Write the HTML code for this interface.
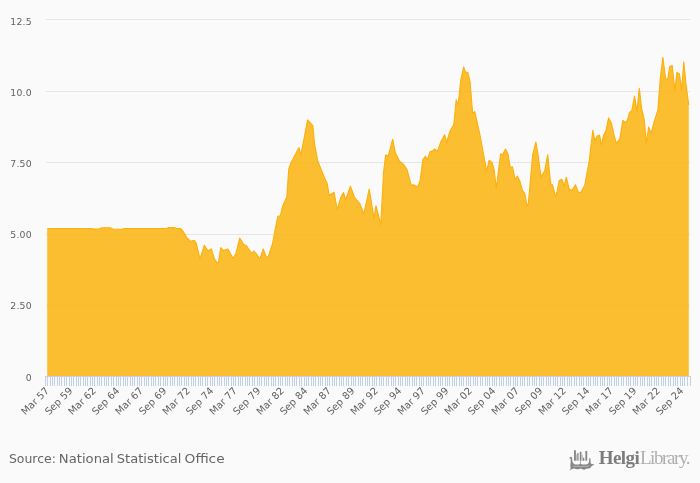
<!DOCTYPE html>
<html><head><meta charset="utf-8"><title>Chart</title>
<style>
html,body{margin:0;padding:0;background:#fafafa;}
body{width:700px;height:483px;overflow:hidden;position:relative;font-family:"DejaVu Sans","Liberation Sans",sans-serif;}
svg{position:absolute;left:0;top:0;display:block}
.yl text,.xl text{font-family:"DejaVu Sans","Liberation Sans",sans-serif;font-size:9.6px;fill:#626262}
.xl text{font-size:9.85px}
.yl text{font-size:9.3px;letter-spacing:0.2px}
.src{font-family:"DejaVu Sans","Liberation Sans",sans-serif;font-size:12.5px;fill:#666}
.logo{font-family:"Liberation Serif",serif;font-size:19px}
</style></head><body>
<svg width="700" height="483" viewBox="0 0 700 483">
<defs><filter id="gs" x="0" y="0" width="100%" height="100%" filterUnits="userSpaceOnUse" color-interpolation-filters="sRGB"><feColorMatrix type="saturate" values="0"/></filter></defs>
<rect width="700" height="483" fill="#fafafa"/>
<path d="M46,19.5H690 M46,91.5H690 M46,162.5H690 M46,234.5H690 M46,305.5H690" stroke="#e6e6e6" stroke-width="1" fill="none" shape-rendering="crispEdges"/>
<path d="M47.2,228.5 L91.5,228.5 L94.0,229.1 L99.0,229.1 L101.5,227.7 L110.5,227.7 L113.0,229.2 L122.0,229.2 L124.0,228.5 L167.0,228.5 L168.6,227.6 L174.5,227.6 L176.3,228.5 L180.9,228.6 L183.0,231.4 L185.3,234.9 L186.6,237.3 L190.7,241.3 L194.3,240.3 L196.4,243.6 L200.0,259.0 L204.3,245.3 L207.9,250.8 L211.4,248.9 L214.3,258.6 L217.1,263.1 L218.6,262.1 L220.7,247.6 L223.6,250.6 L227.9,249.0 L232.9,258.2 L235.7,254.3 L239.7,238.1 L243.6,244.2 L246.5,245.7 L251.6,253.4 L253.8,251.0 L255.9,253.3 L259.6,258.6 L261.0,255.8 L263.2,249.0 L266.4,257.4 L268.3,256.5 L272.6,243.5 L274.8,231.2 L277.9,216.2 L280.4,215.9 L282.5,206.5 L286.9,196.6 L288.7,169.2 L291.0,162.8 L299.0,147.6 L300.8,155.5 L307.6,119.8 L312.8,125.5 L314.6,144.2 L317.6,160.6 L324.7,178.3 L327.0,182.9 L329.3,195.5 L334.0,192.2 L337.3,209.7 L340.9,197.0 L343.6,192.6 L345.6,200.2 L350.4,186.1 L354.7,197.7 L359.8,203.5 L363.8,214.0 L369.2,189.0 L374.0,218.3 L376.0,205.7 L380.8,224.9 L383.5,172.8 L385.6,155.1 L388.3,155.8 L392.7,139.2 L395.3,152.5 L399.6,161.2 L403.3,164.1 L406.9,169.2 L411.2,185.1 L414.1,184.9 L417.8,187.0 L420.2,180.1 L422.8,159.8 L425.4,156.2 L427.5,159.8 L430.1,151.5 L432.2,151.1 L434.7,148.9 L437.3,151.6 L440.8,142.0 L444.6,134.7 L446.6,142.2 L450.1,130.9 L453.8,124.6 L456.2,99.9 L458.2,104.5 L460.8,79.6 L463.7,66.9 L465.4,72.1 L467.8,72.4 L470.1,81.8 L472.6,113.4 L474.8,111.5 L479.9,134.7 L486.7,171.5 L489.1,160.2 L492.0,162.5 L494.1,169.5 L496.3,188.2 L500.6,153.7 L502.5,154.8 L505.5,149.0 L508.1,154.6 L510.2,167.5 L512.5,166.9 L515.2,180.0 L517.3,176.0 L520.1,181.8 L522.5,190.6 L524.8,193.6 L527.1,206.4 L528.3,203.8 L532.7,154.6 L535.9,142.0 L538.0,154.6 L541.0,177.1 L544.7,170.8 L547.7,154.6 L550.7,184.1 L552.6,184.8 L555.5,196.6 L556.9,192.5 L559.2,180.7 L561.8,179.2 L564.3,186.1 L566.3,177.2 L569.3,189.6 L572.0,190.3 L575.5,184.7 L578.5,192.6 L581.0,192.1 L584.7,185.6 L589.2,161.1 L592.8,130.2 L594.8,140.4 L597.2,135.9 L599.5,135.1 L601.5,144.9 L603.5,135.5 L606.0,130.6 L608.6,117.9 L611.3,122.8 L613.9,134.6 L616.4,143.2 L619.8,139.1 L622.8,120.3 L625.6,122.7 L627.2,120.4 L629.7,112.1 L631.8,110.7 L634.5,96.0 L637.0,111.6 L639.3,88.3 L641.7,109.0 L644.2,119.4 L646.3,143.2 L648.6,127.0 L651.1,133.5 L654.2,121.4 L657.9,110.0 L660.4,76.9 L662.9,57.2 L665.6,78.4 L667.6,79.9 L669.7,66.6 L672.2,65.5 L674.9,90.4 L676.9,72.4 L679.4,73.8 L681.7,90.0 L683.8,61.8 L686.2,86.2 L688.8,104.9 L688.8,376.5 L47.2,376.5 Z" fill="#fab30c" fill-opacity="0.85"/>
<path d="M47.2,228.5 L91.5,228.5 L94.0,229.1 L99.0,229.1 L101.5,227.7 L110.5,227.7 L113.0,229.2 L122.0,229.2 L124.0,228.5 L167.0,228.5 L168.6,227.6 L174.5,227.6 L176.3,228.5 L180.9,228.6 L183.0,231.4 L185.3,234.9 L186.6,237.3 L190.7,241.3 L194.3,240.3 L196.4,243.6 L200.0,259.0 L204.3,245.3 L207.9,250.8 L211.4,248.9 L214.3,258.6 L217.1,263.1 L218.6,262.1 L220.7,247.6 L223.6,250.6 L227.9,249.0 L232.9,258.2 L235.7,254.3 L239.7,238.1 L243.6,244.2 L246.5,245.7 L251.6,253.4 L253.8,251.0 L255.9,253.3 L259.6,258.6 L261.0,255.8 L263.2,249.0 L266.4,257.4 L268.3,256.5 L272.6,243.5 L274.8,231.2 L277.9,216.2 L280.4,215.9 L282.5,206.5 L286.9,196.6 L288.7,169.2 L291.0,162.8 L299.0,147.6 L300.8,155.5 L307.6,119.8 L312.8,125.5 L314.6,144.2 L317.6,160.6 L324.7,178.3 L327.0,182.9 L329.3,195.5 L334.0,192.2 L337.3,209.7 L340.9,197.0 L343.6,192.6 L345.6,200.2 L350.4,186.1 L354.7,197.7 L359.8,203.5 L363.8,214.0 L369.2,189.0 L374.0,218.3 L376.0,205.7 L380.8,224.9 L383.5,172.8 L385.6,155.1 L388.3,155.8 L392.7,139.2 L395.3,152.5 L399.6,161.2 L403.3,164.1 L406.9,169.2 L411.2,185.1 L414.1,184.9 L417.8,187.0 L420.2,180.1 L422.8,159.8 L425.4,156.2 L427.5,159.8 L430.1,151.5 L432.2,151.1 L434.7,148.9 L437.3,151.6 L440.8,142.0 L444.6,134.7 L446.6,142.2 L450.1,130.9 L453.8,124.6 L456.2,99.9 L458.2,104.5 L460.8,79.6 L463.7,66.9 L465.4,72.1 L467.8,72.4 L470.1,81.8 L472.6,113.4 L474.8,111.5 L479.9,134.7 L486.7,171.5 L489.1,160.2 L492.0,162.5 L494.1,169.5 L496.3,188.2 L500.6,153.7 L502.5,154.8 L505.5,149.0 L508.1,154.6 L510.2,167.5 L512.5,166.9 L515.2,180.0 L517.3,176.0 L520.1,181.8 L522.5,190.6 L524.8,193.6 L527.1,206.4 L528.3,203.8 L532.7,154.6 L535.9,142.0 L538.0,154.6 L541.0,177.1 L544.7,170.8 L547.7,154.6 L550.7,184.1 L552.6,184.8 L555.5,196.6 L556.9,192.5 L559.2,180.7 L561.8,179.2 L564.3,186.1 L566.3,177.2 L569.3,189.6 L572.0,190.3 L575.5,184.7 L578.5,192.6 L581.0,192.1 L584.7,185.6 L589.2,161.1 L592.8,130.2 L594.8,140.4 L597.2,135.9 L599.5,135.1 L601.5,144.9 L603.5,135.5 L606.0,130.6 L608.6,117.9 L611.3,122.8 L613.9,134.6 L616.4,143.2 L619.8,139.1 L622.8,120.3 L625.6,122.7 L627.2,120.4 L629.7,112.1 L631.8,110.7 L634.5,96.0 L637.0,111.6 L639.3,88.3 L641.7,109.0 L644.2,119.4 L646.3,143.2 L648.6,127.0 L651.1,133.5 L654.2,121.4 L657.9,110.0 L660.4,76.9 L662.9,57.2 L665.6,78.4 L667.6,79.9 L669.7,66.6 L672.2,65.5 L674.9,90.4 L676.9,72.4 L679.4,73.8 L681.7,90.0 L683.8,61.8 L686.2,86.2 L688.8,104.9" fill="none" stroke="#fdb00c" stroke-width="1.1" stroke-linejoin="round"/>
<path d="M45.5,376V386M47.5,376V386M50.5,376V386M52.5,376V386M54.5,376V386M57.5,376V386M59.5,376V386M61.5,376V386M64.5,376V386M66.5,376V386M69.5,376V386M71.5,376V386M73.5,376V386M76.5,376V386M78.5,376V386M80.5,376V386M83.5,376V386M85.5,376V386M87.5,376V386M90.5,376V386M92.5,376V386M94.5,376V386M97.5,376V386M99.5,376V386M101.5,376V386M104.5,376V386M106.5,376V386M108.5,376V386M111.5,376V386M113.5,376V386M116.5,376V386M118.5,376V386M120.5,376V386M123.5,376V386M125.5,376V386M127.5,376V386M130.5,376V386M132.5,376V386M134.5,376V386M137.5,376V386M139.5,376V386M141.5,376V386M144.5,376V386M146.5,376V386M148.5,376V386M151.5,376V386M153.5,376V386M155.5,376V386M158.5,376V386M160.5,376V386M163.5,376V386M165.5,376V386M167.5,376V386M170.5,376V386M172.5,376V386M174.5,376V386M177.5,376V386M179.5,376V386M181.5,376V386M184.5,376V386M186.5,376V386M188.5,376V386M191.5,376V386M193.5,376V386M195.5,376V386M198.5,376V386M200.5,376V386M202.5,376V386M205.5,376V386M207.5,376V386M210.5,376V386M212.5,376V386M214.5,376V386M217.5,376V386M219.5,376V386M221.5,376V386M224.5,376V386M226.5,376V386M228.5,376V386M231.5,376V386M233.5,376V386M235.5,376V386M238.5,376V386M240.5,376V386M242.5,376V386M245.5,376V386M247.5,376V386M249.5,376V386M252.5,376V386M254.5,376V386M257.5,376V386M259.5,376V386M261.5,376V386M264.5,376V386M266.5,376V386M268.5,376V386M271.5,376V386M273.5,376V386M275.5,376V386M278.5,376V386M280.5,376V386M282.5,376V386M285.5,376V386M287.5,376V386M289.5,376V386M292.5,376V386M294.5,376V386M296.5,376V386M299.5,376V386M301.5,376V386M304.5,376V386M306.5,376V386M308.5,376V386M311.5,376V386M313.5,376V386M315.5,376V386M318.5,376V386M320.5,376V386M322.5,376V386M325.5,376V386M327.5,376V386M329.5,376V386M332.5,376V386M334.5,376V386M336.5,376V386M339.5,376V386M341.5,376V386M343.5,376V386M346.5,376V386M348.5,376V386M351.5,376V386M353.5,376V386M355.5,376V386M358.5,376V386M360.5,376V386M362.5,376V386M365.5,376V386M367.5,376V386M369.5,376V386M372.5,376V386M374.5,376V386M376.5,376V386M379.5,376V386M381.5,376V386M383.5,376V386M386.5,376V386M388.5,376V386M391.5,376V386M393.5,376V386M395.5,376V386M398.5,376V386M400.5,376V386M402.5,376V386M405.5,376V386M407.5,376V386M409.5,376V386M412.5,376V386M414.5,376V386M416.5,376V386M419.5,376V386M421.5,376V386M423.5,376V386M426.5,376V386M428.5,376V386M430.5,376V386M433.5,376V386M435.5,376V386M438.5,376V386M440.5,376V386M442.5,376V386M445.5,376V386M447.5,376V386M449.5,376V386M452.5,376V386M454.5,376V386M456.5,376V386M459.5,376V386M461.5,376V386M463.5,376V386M466.5,376V386M468.5,376V386M470.5,376V386M473.5,376V386M475.5,376V386M477.5,376V386M480.5,376V386M482.5,376V386M485.5,376V386M487.5,376V386M489.5,376V386M492.5,376V386M494.5,376V386M496.5,376V386M499.5,376V386M501.5,376V386M503.5,376V386M506.5,376V386M508.5,376V386M510.5,376V386M513.5,376V386M515.5,376V386M517.5,376V386M520.5,376V386M522.5,376V386M524.5,376V386M527.5,376V386M529.5,376V386M532.5,376V386M534.5,376V386M536.5,376V386M539.5,376V386M541.5,376V386M543.5,376V386M546.5,376V386M548.5,376V386M550.5,376V386M553.5,376V386M555.5,376V386M557.5,376V386M560.5,376V386M562.5,376V386M564.5,376V386M567.5,376V386M569.5,376V386M571.5,376V386M574.5,376V386M576.5,376V386M579.5,376V386M581.5,376V386M583.5,376V386M586.5,376V386M588.5,376V386M590.5,376V386M593.5,376V386M595.5,376V386M597.5,376V386M600.5,376V386M602.5,376V386M604.5,376V386M607.5,376V386M609.5,376V386M611.5,376V386M614.5,376V386M616.5,376V386M618.5,376V386M621.5,376V386M623.5,376V386M626.5,376V386M628.5,376V386M630.5,376V386M633.5,376V386M635.5,376V386M637.5,376V386M640.5,376V386M642.5,376V386M644.5,376V386M647.5,376V386M649.5,376V386M651.5,376V386M654.5,376V386M656.5,376V386M658.5,376V386M661.5,376V386M663.5,376V386M665.5,376V386M668.5,376V386M670.5,376V386M673.5,376V386M675.5,376V386M677.5,376V386M680.5,376V386M682.5,376V386M684.5,376V386M687.5,376V386M690.5,376V386" stroke="#c2d0ec" stroke-width="1" fill="none" shape-rendering="crispEdges"/>
<path d="M45,376.5H691" stroke="#c2d0ec" stroke-width="1" fill="none" shape-rendering="crispEdges"/>
<g class="yl" filter="url(#gs)">
<text x="31.8" y="25.1" text-anchor="end">12.5</text><text x="31.8" y="96.1" text-anchor="end">10.0</text><text x="31.8" y="167.1" text-anchor="end">7.50</text><text x="31.8" y="238.1" text-anchor="end">5.00</text><text x="31.8" y="309.1" text-anchor="end">2.50</text><text x="31.8" y="380.7" text-anchor="end">0</text>
</g>
<g class="xl" filter="url(#gs)">
<text x="49.58" y="391.4" text-anchor="end" transform="rotate(-45 49.58 391.4)">Mar 57</text>
<text x="73.08" y="391.4" text-anchor="end" transform="rotate(-45 73.08 391.4)">Sep 59</text>
<text x="96.58" y="391.4" text-anchor="end" transform="rotate(-45 96.58 391.4)">Mar 62</text>
<text x="120.09" y="391.4" text-anchor="end" transform="rotate(-45 120.09 391.4)">Sep 64</text>
<text x="143.59" y="391.4" text-anchor="end" transform="rotate(-45 143.59 391.4)">Mar 67</text>
<text x="167.09" y="391.4" text-anchor="end" transform="rotate(-45 167.09 391.4)">Sep 69</text>
<text x="190.60" y="391.4" text-anchor="end" transform="rotate(-45 190.60 391.4)">Mar 72</text>
<text x="214.10" y="391.4" text-anchor="end" transform="rotate(-45 214.10 391.4)">Sep 74</text>
<text x="237.60" y="391.4" text-anchor="end" transform="rotate(-45 237.60 391.4)">Mar 77</text>
<text x="261.11" y="391.4" text-anchor="end" transform="rotate(-45 261.11 391.4)">Sep 79</text>
<text x="284.61" y="391.4" text-anchor="end" transform="rotate(-45 284.61 391.4)">Mar 82</text>
<text x="308.12" y="391.4" text-anchor="end" transform="rotate(-45 308.12 391.4)">Sep 84</text>
<text x="331.62" y="391.4" text-anchor="end" transform="rotate(-45 331.62 391.4)">Mar 87</text>
<text x="355.12" y="391.4" text-anchor="end" transform="rotate(-45 355.12 391.4)">Sep 89</text>
<text x="378.63" y="391.4" text-anchor="end" transform="rotate(-45 378.63 391.4)">Mar 92</text>
<text x="402.13" y="391.4" text-anchor="end" transform="rotate(-45 402.13 391.4)">Sep 94</text>
<text x="425.63" y="391.4" text-anchor="end" transform="rotate(-45 425.63 391.4)">Mar 97</text>
<text x="449.14" y="391.4" text-anchor="end" transform="rotate(-45 449.14 391.4)">Sep 99</text>
<text x="472.64" y="391.4" text-anchor="end" transform="rotate(-45 472.64 391.4)">Mar 02</text>
<text x="496.14" y="391.4" text-anchor="end" transform="rotate(-45 496.14 391.4)">Sep 04</text>
<text x="519.65" y="391.4" text-anchor="end" transform="rotate(-45 519.65 391.4)">Mar 07</text>
<text x="543.15" y="391.4" text-anchor="end" transform="rotate(-45 543.15 391.4)">Sep 09</text>
<text x="566.66" y="391.4" text-anchor="end" transform="rotate(-45 566.66 391.4)">Mar 12</text>
<text x="590.16" y="391.4" text-anchor="end" transform="rotate(-45 590.16 391.4)">Sep 14</text>
<text x="613.66" y="391.4" text-anchor="end" transform="rotate(-45 613.66 391.4)">Mar 17</text>
<text x="637.17" y="391.4" text-anchor="end" transform="rotate(-45 637.17 391.4)">Sep 19</text>
<text x="660.67" y="391.4" text-anchor="end" transform="rotate(-45 660.67 391.4)">Mar 22</text>
<text x="684.17" y="391.4" text-anchor="end" transform="rotate(-45 684.17 391.4)">Sep 24</text>
</g>
<g id="icon">
<path d="M574,450.3h1.9v10.5h-1.9zM579.8,451.8h1.7v9h-1.7zM583,457.7h1.3v3.1h-1.3zM585.4,450.9h1.8v9.9h-1.8z" fill="#858585"/>
<path d="M577,453h1.7v7.8h-1.7z" fill="#a2a2a2"/>
<path d="M581.5,455h1.5v5.8h-1.5zM575.9,454.5h1.1v6.3h-1.1z" fill="#c4c4c4"/>
<path d="M569.3,458.6 C569.6,457.4 570.6,456.6 571.6,456.8 C572.4,458.4 572.2,460.4 572.5,461.8 C572.9,463.4 574,464.3 575.5,464.4 C577,464.5 578.6,464.5 579.6,464.2 C580,464 580.3,463.7 580.4,463.6 C580.6,463.8 580.9,464.1 581.4,464.3 C582.6,464.6 584.5,464.6 586,464.4 C587.4,464.2 588.4,463.6 588.8,462.4 C589.3,460.8 589,458.8 589.6,457.8 C590.3,458 590.6,458.8 590.5,459.9 C590.4,461.3 590.5,462.8 591.2,463.8 C592.2,464.5 593.3,464.2 594.2,464.1 C593.6,465.3 592.5,465.9 591.4,466.2 C591.1,467.4 590.2,468.3 588.8,468.5 C587.6,468.7 586.8,468.4 585.8,469 C584.8,469.8 583.4,469.8 582.4,469.2 C581.3,468.6 580.2,468.6 579.2,469 C578,469.5 576.6,469.5 575.6,468.9 C574.4,468.4 573.2,468.6 572.2,469.1 C571.2,469.7 570.2,470.2 569.4,470.4 C569.9,469.7 570.5,469 570.8,468.3 C570.3,467 570.3,465.4 570.5,463.8 C570.7,462 570.9,460.2 570.6,458.9 C570.3,458.5 569.8,458.5 569.3,458.6 Z" fill="#868686"/>
<path d="M580.4,460.6V463.8" stroke="#8e8e8e" stroke-width="0.7" fill="none"/>
<path d="M572.6,466.4 C574,465.6 575.4,467.2 577,466.4 C578.6,465.6 580,467.3 581.8,466.5 C583.6,465.7 585,467.2 586.6,466.3 C587.6,465.8 588.6,466 589.4,465.7" stroke="#fafafa" stroke-opacity="0.5" stroke-width="0.8" fill="none"/>
</g>
<g filter="url(#gs)">
<text class="src" y="463"><tspan x="8.9" textLength="47" lengthAdjust="spacingAndGlyphs">Source:</tspan> <tspan x="58.8" textLength="55" lengthAdjust="spacingAndGlyphs">National</tspan> <tspan x="116.8" textLength="64.6" lengthAdjust="spacingAndGlyphs">Statistical</tspan> <tspan x="184.6" textLength="40" lengthAdjust="spacingAndGlyphs">Office</tspan></text>
<text class="logo" x="598.8" y="463.6"><tspan font-weight="bold" fill="#7c7c7c" letter-spacing="-0.6">Helgi</tspan><tspan fill="#b0b0b0" letter-spacing="-1.4" dx="0.8">Library.</tspan></text>
</g>
</svg>
</body></html>
